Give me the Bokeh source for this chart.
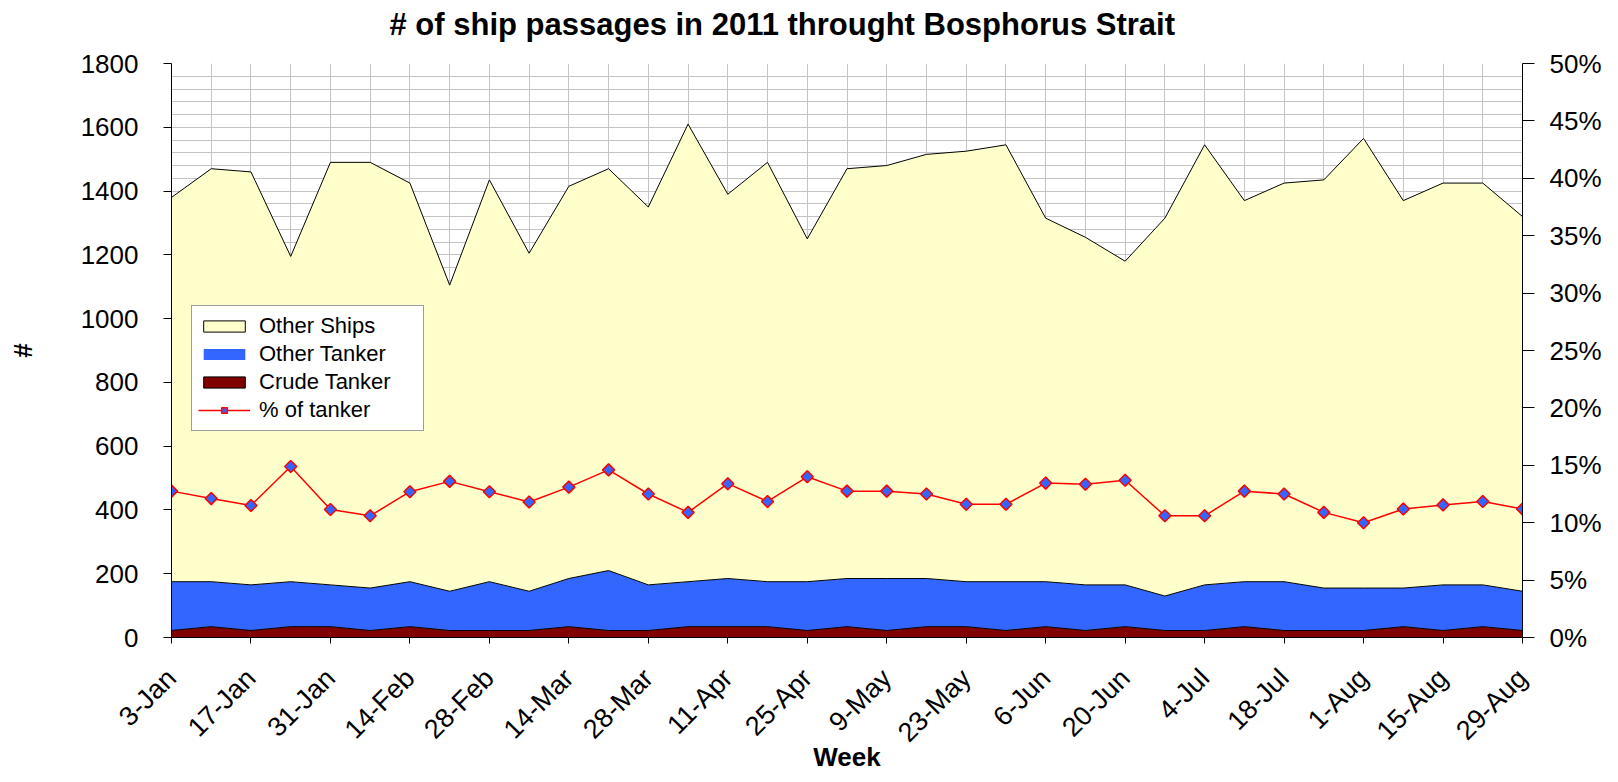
import numpy as np
from math import pi
from bokeh.plotting import figure
from bokeh.models import (Range1d, LinearAxis, FixedTicker, PrintfTickFormatter,
                          Legend, LegendItem, Title)
from bokeh.embed import file_html
from bokeh.resources import INLINE

# ---------------- data ----------------
weeks = ["3-Jan", "10-Jan", "17-Jan", "24-Jan", "31-Jan", "7-Feb", "14-Feb", "21-Feb",
         "28-Feb", "7-Mar", "14-Mar", "21-Mar", "28-Mar", "4-Apr", "11-Apr", "18-Apr",
         "25-Apr", "2-May", "9-May", "16-May", "23-May", "30-May", "6-Jun", "13-Jun",
         "20-Jun", "27-Jun", "4-Jul", "11-Jul", "18-Jul", "25-Jul", "1-Aug", "8-Aug",
         "15-Aug", "22-Aug", "29-Aug"]

crude_tanker = [22, 34, 22, 34, 34, 22, 34, 22, 22, 22, 34, 22, 22, 34, 34, 34, 22, 34,
                22, 34, 34, 22, 34, 22, 34, 22, 22, 34, 22, 22, 22, 34, 22, 34, 22]

other_tanker = [153, 141, 143, 141, 131, 133, 141, 123, 153, 123, 151, 188, 143, 141, 151,
                141, 153, 151, 163, 151, 141, 153, 141, 143, 131, 108, 143, 141, 153, 133,
                133, 121, 143, 131, 123]

other_ships = [1205, 1295, 1295, 1020, 1325, 1335, 1250, 960, 1260, 1060, 1230, 1260, 1185,
               1435, 1205, 1315, 1075, 1285, 1295, 1330, 1350, 1370, 1140, 1090, 1015, 1185,
               1380, 1195, 1250, 1280, 1410, 1215, 1260, 1260, 1175]

pct_tanker = [12.75, 12.1, 11.5, 14.9, 11.15, 10.6, 12.7, 13.6, 12.7, 11.8, 13.1, 14.6, 12.5,
              10.9, 13.4, 11.85, 14.0, 12.75, 12.75, 12.5, 11.6, 11.6, 13.45, 13.35, 13.7,
              10.6, 10.6, 12.75, 12.5, 10.9, 10.0, 11.2, 11.55, 11.85, 11.2]

series_names = ["Other Ships", "Other Tanker", "Crude Tanker", "% of tanker"]
count_ticks = list(range(0, 1801, 200))
pct_ticks = list(range(0, 51, 5))

FONT = "Liberation Sans"

# ---------------- figure ----------------
n = len(weeks)
x = np.arange(n)
crude_top = np.array(crude_tanker, dtype=float)
tanker_top = crude_top + np.array(other_tanker, dtype=float)
total_top = tanker_top + np.array(other_ships, dtype=float)

FW, FH = 1351, 574
p = figure(frame_width=FW, frame_height=FH, output_backend="svg", toolbar_location=None,
           x_range=Range1d(0, n - 1), y_range=Range1d(0, 1800), min_border=0)
p.extra_y_ranges = {"pct": Range1d(0, 50)}
p.outline_line_color = None
p.background_fill_color = "white"
p.border_fill_color = "white"

xs = np.concatenate([x, x[::-1]])
r_tank = p.patch(xs, np.concatenate([tanker_top, crude_top[::-1]]),
                 fill_color="#3366FF", line_color=None)
r_crude = p.patch(xs, np.concatenate([crude_top, np.zeros(n)]),
                  fill_color="#800000", line_color="black", line_width=1)
r_ships = p.patch(xs, np.concatenate([total_top, tanker_top[::-1]]),
                  fill_color="#FFFFCC", line_color="black", line_width=1)

r_line = p.line(x, pct_tanker, y_range_name="pct", line_color="#FF0000", line_width=1.5)
r_pts = p.scatter(x, pct_tanker, y_range_name="pct", marker="square", angle=pi / 4,
                  size=8.5, fill_color="#3366FF", line_color="#FF0000", line_width=1.5)

# ---------------- axes ----------------
xa = p.xaxis[0]
xa.ticker = FixedTicker(ticks=list(range(0, n, 2)))
xa.major_label_overrides = {i: weeks[i] for i in range(0, n, 2)}
xa.major_label_orientation = pi / 4
xa.axis_label = "Week"

ya = p.yaxis[0]
ya.ticker = FixedTicker(ticks=count_ticks)
ya.axis_label = "#"

ra = LinearAxis(y_range_name="pct", ticker=FixedTicker(ticks=pct_ticks),
                formatter=PrintfTickFormatter(format="%d%%"))
p.add_layout(ra, "right")

for ax in (xa, ya, ra):
    ax.axis_line_color = "black"
    ax.axis_line_width = 1
    ax.major_tick_line_color = "black"
    ax.major_tick_in = 0
    ax.minor_tick_line_color = None
    ax.major_label_text_font = FONT
    ax.major_label_text_font_size = "26px"
    ax.major_label_text_color = "black"
    ax.axis_label_text_font = FONT
    ax.axis_label_text_font_size = "26px"
    ax.axis_label_text_font_style = "bold"
    ax.axis_label_text_color = "black"

xa.major_label_text_font_size = "27px"
xa.major_tick_out = 6
xa.major_label_standoff = 30
xa.axis_label_standoff = -19
ya.major_tick_out = 8
ya.major_label_standoff = 25
ya.axis_label_standoff = 40
ra.major_tick_out = 12
ra.major_label_standoff = 15

# small empty spacer at the far left, so the "#" sits a bit inside the page
p.add_layout(Title(text=" ", text_font_size="2px", standoff=0), "left")

# ---------------- grid ----------------
p.xgrid.ticker = FixedTicker(ticks=list(range(n)))
p.ygrid.ticker = FixedTicker(ticks=list(range(0, 1801, 40)))
p.xgrid.grid_line_color = "#C4C4C4"
p.ygrid.grid_line_color = "#C4C4C4"

# ---------------- title ----------------
# empty spacer between plot frame and the title
p.add_layout(Title(text=" ", text_font_size="2px", standoff=13), "above")
p.title.text = "# of ship passages in 2011 throught Bosphorus Strait"
p.title.text_font = FONT
p.title.text_font_size = "31px"
p.title.text_font_style = "bold"
p.title.text_color = "black"
p.title.align = "left"
p.title.offset = 218
p.title.standoff = 9

# ---------------- legend ----------------
legend = Legend(items=[
    LegendItem(label=series_names[0], renderers=[r_ships]),
    LegendItem(label=series_names[1], renderers=[r_tank]),
    LegendItem(label=series_names[2], renderers=[r_crude]),
    LegendItem(label=series_names[3], renderers=[r_line, r_pts]),
], location=(20, 206))
legend.margin = 0
legend.padding = 6
legend.spacing = 0
legend.label_height = 28
legend.label_width = 158
legend.glyph_width = 52
legend.glyph_height = 14
legend.label_standoff = 9
legend.label_text_font = FONT
legend.label_text_font_size = "22px"
legend.label_text_color = "black"
legend.border_line_color = "#404040"
legend.border_line_width = 1
legend.background_fill_color = "white"
legend.background_fill_alpha = 1
p.add_layout(legend)

open("out.html", "w").write(file_html(p, INLINE))
